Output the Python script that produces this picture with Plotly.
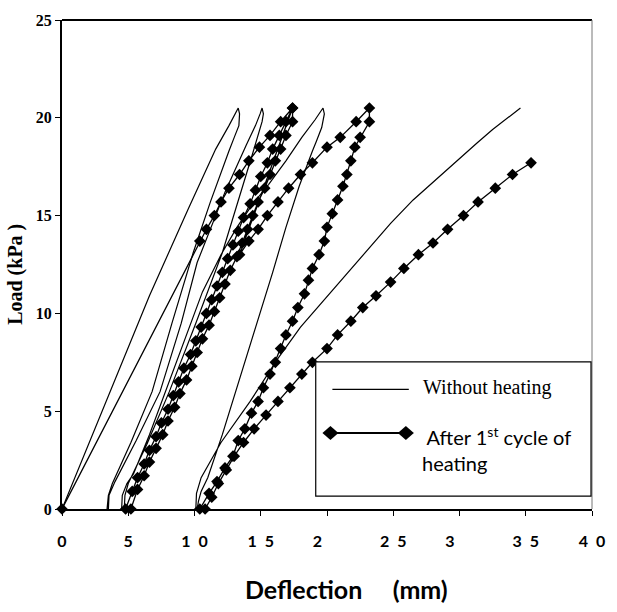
import plotly.graph_objects as go

# ---------------- data ----------------
# "Without heating": one continuous load / unload path (deflection mm, load kPa)
wh_x = [0.0, 1.8, 3.6, 6.6, 9.5, 11.6, 12.6, 13.1, 13.3,
        13.4, 13.35, 13.0, 12.6, 11.2, 9.9, 8.3, 6.8, 5.2, 3.8, 3.5, 3.4,
        3.5, 3.55, 4.0, 5.6, 7.4, 9.0, 10.2, 11.4, 12.3, 13.9, 14.6, 14.95, 15.1,
        15.2, 15.1, 14.4, 13.3, 12.1, 10.1, 8.1, 6.4, 5.0, 4.75, 4.7,
        4.5, 4.55, 4.9, 5.4, 6.6, 7.8, 9.2, 10.6, 12.0, 13.2, 14.4, 15.6, 16.9, 18.1, 19.1, 19.7,
        19.8, 19.6, 19.2, 18.9, 17.9, 16.9, 15.9, 14.9, 14.0, 13.1, 12.1, 11.0, 10.5, 10.3, 10.2,
        10.1, 10.15, 10.5, 12.0, 14.2, 16.3, 18.0, 19.8, 21.5, 23.1, 24.8, 26.5, 28.3, 30.0,
        31.3, 32.5, 33.6, 34.6]
wh_y = [0.0, 3.0, 6.0, 10.9, 15.3, 18.4, 19.6, 20.2, 20.5,
        20.2, 19.6, 19.0, 18.3, 15.7, 13.1, 9.5, 6.0, 3.4, 1.3, 0.7, 0.0,
        0.0, 0.7, 1.4, 3.5, 6.0, 9.5, 12.6, 14.7, 16.2, 18.6, 19.6, 20.2, 20.5,
        20.2, 19.8, 18.2, 15.7, 13.1, 9.5, 6.0, 3.3, 1.3, 0.7, 0.0,
        0.0, 0.7, 1.3, 1.8, 3.8, 6.0, 8.5, 11.1, 13.0, 14.4, 15.6, 16.6, 17.8, 19.0, 19.9, 20.5,
        20.2, 19.5, 18.8, 18.3, 16.5, 14.4, 12.1, 9.9, 8.0, 6.0, 3.8, 1.6, 0.9, 0.4, 0.0,
        0.0, 0.8, 1.6, 3.4, 5.5, 7.7, 9.3, 10.7, 12.0, 13.3, 14.6, 15.8, 16.9, 17.9,
        18.7, 19.4, 20.0, 20.5]

# "After 1st cycle of heating": diamond-marked path
ah_x = [0.0,
        10.4, 10.9, 11.5, 12.0, 12.6, 13.4, 14.1, 14.9, 15.7, 16.5, 17.4,
        17.4, 16.9, 16.5, 16.1, 15.7, 15.3, 14.8, 14.4, 14.0, 13.6, 13.2, 12.7, 12.3, 11.9, 11.5,
        11.1, 10.6, 10.2, 9.8, 9.4, 8.9, 8.5, 8.0, 7.6, 7.1, 6.6, 6.2, 5.7, 5.2,
        4.8, 5.3, 5.7, 6.2, 6.6, 7.1, 7.5, 8.0, 8.4, 8.8, 9.2, 9.7, 10.1, 10.5, 10.9, 11.3, 11.7,
        12.1, 12.5, 12.9, 13.3, 13.7, 14.2, 14.6, 15.0, 15.5, 15.9, 16.4, 16.9, 17.4,
        13.4, 14.1, 14.8, 15.5, 16.3, 17.1, 18.0, 18.9, 20.0, 21.0, 22.2, 23.2,
        23.2, 22.5, 22.1, 21.8, 21.5, 21.2, 20.8, 20.4, 20.0, 19.8, 19.4, 18.9, 18.6, 18.3, 17.8,
        17.4, 16.9, 16.5, 16.1, 15.7, 15.2, 14.8, 14.3, 13.8, 13.3, 12.9, 12.3, 11.7, 11.1, 10.4,
        10.8, 11.3, 11.8, 12.4, 13.0, 13.7, 14.5, 15.4, 16.3, 17.2, 18.1, 18.9, 20.0, 20.8, 21.8,
        22.7, 23.7, 24.8, 25.8, 26.9, 28.0, 29.1, 30.3, 31.4, 32.7, 34.0, 35.4]
ah_y = [0.0,
        13.7, 14.3, 15.0, 15.7, 16.4, 17.1, 17.8, 18.5, 19.1, 19.8, 20.5,
        19.8, 19.1, 18.4, 17.8, 17.1, 16.4, 15.7, 15.0, 14.3, 13.6, 12.9, 12.2, 11.5, 10.8, 10.1,
        9.4, 8.7, 8.0, 7.3, 6.6, 5.9, 5.2, 4.5, 3.8, 3.1, 2.4, 1.7, 1.0, 0.0,
        0.0, 0.9, 1.6, 2.3, 3.0, 3.7, 4.4, 5.1, 5.8, 6.5, 7.2, 7.9, 8.6, 9.3, 10.0, 10.7, 11.4,
        12.1, 12.8, 13.5, 14.2, 14.9, 15.6, 16.3, 17.0, 17.7, 18.4, 19.1, 19.8, 20.5,
        13.0, 13.7, 14.3, 15.0, 15.7, 16.4, 17.1, 17.7, 18.5, 19.0, 19.8, 20.5,
        19.8, 19.0, 18.5, 17.8, 17.1, 16.5, 15.8, 15.1, 14.4, 13.7, 13.0, 12.3, 11.7, 11.0, 10.3,
        9.6, 8.9, 8.2, 7.5, 6.9, 6.2, 5.5, 4.9, 4.1, 3.5, 2.7, 2.1, 1.4, 0.8, 0.0,
        0.0, 0.6, 1.3, 2.0, 2.7, 3.4, 4.1, 4.8, 5.5, 6.2, 6.9, 7.5, 8.2, 8.9, 9.6,
        10.3, 10.9, 11.6, 12.3, 13.0, 13.6, 14.3, 15.0, 15.7, 16.4, 17.1, 17.7]

x_tickvals = [0, 5, 10, 15, 20, 25, 30, 35, 40]
x_ticktext = ["0", "5", "1\u00a0\u00a00", "1\u00a0\u00a05", "2\u00a0\u00a0\u00a0\u00a0\u00a0",
              "2\u00a0\u00a05", "3\u00a0\u00a0\u00a0\u00a0\u00a0", "3\u00a0\u00a05", "4\u00a0\u00a00"]
y_tickvals = [0, 5, 10, 15, 20, 25]

legend_names = ["Without heating", "\u00a0After 1<sup>st</sup> cycle of<br>heating"]
x_title = "Deflection\u00a0\u00a0\u00a0\u00a0\u00a0(mm)"
y_title = "Load (kPa )"

# ---------------- figure ----------------
fig = go.Figure()
fig.add_trace(go.Scatter(x=wh_x, y=wh_y, mode="lines", name="Without heating",
                         line=dict(color="black", width=1.2), showlegend=False,
                         cliponaxis=False))
fig.add_trace(go.Scatter(x=ah_x, y=ah_y, mode="lines+markers", name="After 1st cycle of heating",
                         line=dict(color="black", width=1.3),
                         marker=dict(symbol="diamond", size=9, color="black"),
                         showlegend=False, cliponaxis=False))

L, R, T, B = 62, 14, 14, 103
W, H = 617, 612
pw, ph = W - L - R, H - T - B


def px(xp):
    return (xp - L) / pw


def py(yp):
    return (H - B - yp) / ph


fig.update_layout(
    width=W, height=H,
    margin=dict(l=L, r=R, t=T, b=B),
    paper_bgcolor="white", plot_bgcolor="white",
    xaxis=dict(range=[0, 40], tickvals=x_tickvals, ticktext=x_ticktext,
               showgrid=False, zeroline=False, showline=True, linecolor="black", linewidth=2,
               ticks="outside", ticklen=5, tickcolor="black", tickwidth=1,
               ticklabelstandoff=12,
               tickfont=dict(family="Lato", size=16, color="black", weight="bold")),
    yaxis=dict(range=[0, 25], tickvals=y_tickvals,
               showgrid=False, zeroline=False, showline=True, linecolor="black", linewidth=2,
               ticks="outside", ticklen=5, tickcolor="black", tickwidth=1,
               tickfont=dict(family="Liberation Serif", size=16, color="black", weight="bold")),
)

shapes = []
shapes.append(dict(type="line", xref="paper", yref="paper", x0=0, x1=1, y0=1, y1=1,
                   line=dict(color="black", width=2)))
shapes.append(dict(type="line", xref="paper", yref="paper", x0=1, x1=1, y0=0, y1=1,
                   line=dict(color="#777777", width=1)))
shapes.append(dict(type="rect", xref="paper", yref="paper", x0=px(321), x1=px(602),
                   y0=py(496), y1=py(360), fillcolor="white", line=dict(color="black", width=1.2),
                   layer="above"))
shapes.append(dict(type="line", xref="paper", yref="paper", x0=px(338), x1=px(416),
                   y0=py(388), y1=py(388), line=dict(color="black", width=1.3), layer="above"))
shapes.append(dict(type="line", xref="paper", yref="paper", x0=px(336), x1=px(413),
                   y0=py(432), y1=py(432), line=dict(color="black", width=2), layer="above"))
for xc in (336, 413):
    shapes.append(dict(type="path", xref="paper", yref="paper", xsizemode="pixel", ysizemode="pixel",
                       xanchor=px(xc), yanchor=py(432),
                       path="M -8 0 L 0 7 L 8 0 L 0 -7 Z", fillcolor="black",
                       line=dict(color="black", width=0), layer="above"))
fig.update_layout(shapes=shapes)

fig.add_annotation(xref="paper", yref="paper", x=px(428), y=py(386), xanchor="left", yanchor="middle",
                   text=legend_names[0], showarrow=False,
                   font=dict(family="Liberation Serif", size=20, color="black"))
fig.add_annotation(xref="paper", yref="paper", x=px(427), y=py(420), xanchor="left", yanchor="top",
                   align="left", text=legend_names[1], showarrow=False,
                   font=dict(family="Lato", size=20, color="black"))
fig.add_annotation(xref="paper", yref="paper", x=px(352), y=py(590), xanchor="center", yanchor="middle",
                   text=x_title, showarrow=False,
                   font=dict(family="Lato", size=25, color="black", weight="bold"))
fig.add_annotation(xref="paper", yref="paper", x=px(15), y=py(271), xanchor="center", yanchor="middle",
                   text=y_title, textangle=-90, showarrow=False,
                   font=dict(family="Liberation Serif", size=20, color="black", weight="bold"))

fig.write_html("out.html", config={"displayModeBar": False},
               post_script="document.body.style.margin='0';"
                           "document.body.style.overflow='hidden';"
                           "document.documentElement.style.overflow='hidden';")
